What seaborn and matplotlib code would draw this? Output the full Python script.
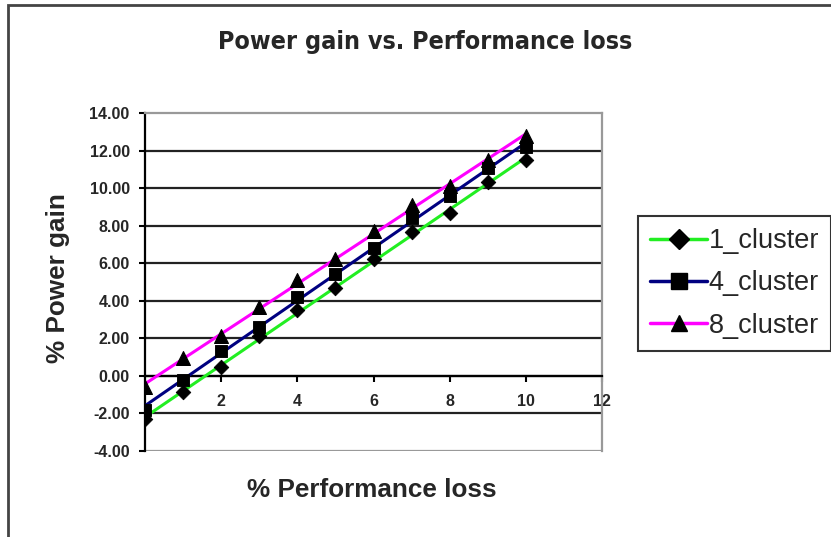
import matplotlib
matplotlib.use("Agg")
import matplotlib.pyplot as plt
from matplotlib.lines import Line2D
from matplotlib.patches import Rectangle
import seaborn as sns
import numpy as np
import pandas as pd

# ---- data ----
perf_loss = [0, 1, 2, 3, 4, 5, 6, 7, 8, 9, 10]
cluster_1 = [-2.3, -0.85, 0.45, 2.1, 3.5, 4.7, 6.2, 7.65, 8.65, 10.3, 11.5]
cluster_4 = [-1.8, -0.2, 1.3, 2.6, 4.2, 5.4, 6.8, 8.4, 9.6, 11.05, 12.2]
cluster_8 = [-0.6, 0.95, 2.1, 3.65, 5.1, 6.2, 7.7, 9.1, 10.1, 11.5, 12.75]
series_names = ["1_cluster", "4_cluster", "8_cluster"]
y_ticks = [-4, -2, 0, 2, 4, 6, 8, 10, 12, 14]
x_ticks = [2, 4, 6, 8, 10, 12]

sns.set_style("white")
plt.rcParams["font.family"] = ["Liberation Sans", "DejaVu Sans"]

W, H = 831, 537
fig = plt.figure(figsize=(W / 100, H / 100), dpi=100)
fig.patch.set_facecolor("white")
ax = fig.add_axes([145 / W, 1 - 451 / H, (602 - 145) / W, (451 - 113) / H])

series = [cluster_1, cluster_4, cluster_8]
colors = ["#22EE22", "#000080", "#FF00FF"]
markers = ["D", "s", "^"]
msizes = [55, 65, 100]

# trend lines (magenta first so green ends on top)
for vals, col in reversed(list(zip(series, colors))):
    df = pd.DataFrame({"x": perf_loss, "y": vals})
    sns.regplot(data=df, x="x", y="y", ci=None, ax=ax, scatter=False,
                line_kws=dict(color=col, lw=2.2, zorder=3))
# data markers
for vals, m, s in zip(series, markers, msizes):
    df = pd.DataFrame({"x": perf_loss, "y": vals})
    sns.scatterplot(data=df, x="x", y="y", ax=ax, marker=m, s=s,
                    color="black", edgecolor="black", zorder=4, legend=False)

ax.set_xlim(0, 12)
ax.set_ylim(-4, 14)
ax.set_xlabel("")
ax.set_ylabel("")

# grid lines
for yv in y_ticks[1:-1]:
    ax.axhline(yv, color="#222222", lw=1.6, zorder=1)
ax.axhline(-4, color="#999999", lw=1.6, zorder=1)

ax.spines["top"].set_color("#999999")
ax.spines["right"].set_color("#999999")
ax.spines["top"].set_linewidth(1.6)
ax.spines["right"].set_linewidth(1.6)
ax.spines["left"].set_color("black")
ax.spines["left"].set_linewidth(1.6)
ax.spines["bottom"].set_position(("data", 0))
ax.spines["bottom"].set_color("black")
ax.spines["bottom"].set_linewidth(1.6)

ax.set_yticks(y_ticks)
ax.set_yticklabels([f"{v:.2f}" for v in y_ticks], fontsize=11.5, fontweight="bold")
ax.set_xticks(x_ticks)
ax.set_xticklabels([str(v) for v in x_ticks], fontsize=11.5, fontweight="bold")
ax.tick_params(axis="y", direction="out", length=4, width=1.5, left=True, pad=7, color="black")
ax.tick_params(axis="x", direction="out", length=4, width=1.5, bottom=True, pad=9, color="black")

# titles
fig.text(425 / W, 1 - 42 / H, "Power gain vs. Performance loss", ha="center", va="center",
         fontsize=18, fontweight="bold", fontstretch="condensed",
         family=["DejaVu Sans"])
fig.text(372 / W, 1 - 490 / H, "% Performance loss", ha="center", va="center",
         fontsize=18.8, fontweight="bold")
fig.text(58 / W, 1 - 278 / H, "% Power gain", ha="center", va="center",
         fontsize=18.8, fontweight="bold", rotation=90)

# legend
handles = [Line2D([0], [0], color=c, lw=2.5, marker=m, markersize=12 if m != "D" else 10,
                  markerfacecolor="black", markeredgecolor="black")
           for c, m in zip(colors, markers)]
leg = fig.legend(handles, series_names, loc="upper left",
                 bbox_to_anchor=(638 / W, 1 - 216 / H), frameon=True,
                 fontsize=19.5, handlelength=2.1, handletextpad=0.05,
                 labelspacing=0.6, borderpad=0.45, borderaxespad=0, fancybox=False)
leg.get_frame().set_edgecolor("black")
leg.get_frame().set_linewidth(1.5)

# outer chart border
fig.patches.append(Rectangle((8 / W, -0.1), 1.2, (1 - 5 / H) + 0.1, transform=fig.transFigure,
                             fill=False, edgecolor="#444444", lw=2))

fig.savefig("out.png", dpi=100)
